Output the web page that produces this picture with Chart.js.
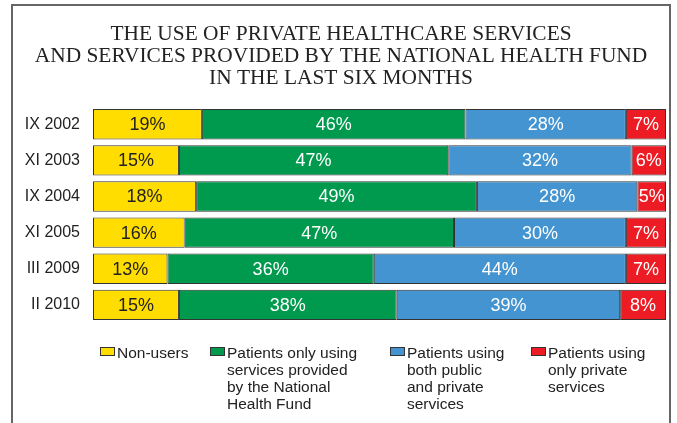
<!DOCTYPE html>
<html>
<head>
<meta charset="utf-8">
<script src="https://cdn.jsdelivr.net/npm/chart.js@4"></script>
<style>
  html, body { margin: 0; padding: 0; background: #fff; overflow: hidden; }
  #wrap { position: relative; width: 677px; height: 423px; }
  #frame { position: absolute; left: 11px; top: 4px; width: 660px; height: 440px; border: 2px solid #666; box-sizing: border-box; }
  #c { position: absolute; left: 0; top: 0; }
  .leg { position: absolute; top: 344px; font: 15.5px "Liberation Sans", Arial, sans-serif; color: #222; line-height: 17px; }
  .leg i { position: absolute; left: 0; top: 3px; width: 13px; height: 7px; border: 1px solid #333; }
  .leg span { display: block; padding-left: 17px; }
</style>
</head>
<body>
<div id="wrap">
  <div id="frame"></div>
  <canvas id="c" width="677" height="423"></canvas>
  <div id="legend"></div>
</div>
<script>
const periods = ['IX 2002', 'XI 2003', 'IX 2004', 'XI 2005', 'III 2009', 'II 2010'];
const nonUsers = [19, 15, 18, 16, 13, 15];
const onlyNHF = [46, 47, 49, 47, 36, 38];
const bothPublicPrivate = [28, 32, 28, 30, 44, 39];
const onlyPrivate = [7, 6, 5, 7, 7, 8];

const seriesNames = [
  ['Non-users'],
  ['Patients only using', 'services provided', 'by the National', 'Health Fund'],
  ['Patients using', 'both public', 'and private', 'services'],
  ['Patients using', 'only private', 'services']
];
const colors = ['#ffdd00', '#009a4e', '#4394d0', '#ed1c24'];
const labelColors = ['#222', '#fff', '#fff', '#fff'];
const legendX = [100, 210, 390, 531];

// percent labels in the middle of each segment
const segLabels = {
  id: 'segLabels',
  afterDatasetsDraw(chart) {
    const ctx = chart.ctx;
    ctx.save();
    ctx.font = '18px "Liberation Sans", Arial, sans-serif';
    ctx.textAlign = 'center';
    ctx.textBaseline = 'middle';
    chart.data.datasets.forEach((ds, i) => {
      const meta = chart.getDatasetMeta(i);
      ctx.fillStyle = labelColors[i];
      meta.data.forEach((bar, j) => {
        const p = bar.getProps(['x', 'base', 'y'], true);
        ctx.fillText(ds.data[j] + '%', (p.x + p.base) / 2, p.y + 1);
      });
    });
    ctx.restore();
  }
};

const sets = [nonUsers, onlyNHF, bothPublicPrivate, onlyPrivate];

new Chart(document.getElementById('c'), {
  type: 'bar',
  data: {
    labels: periods,
    datasets: sets.map((d, i) => ({
      label: seriesNames[i].join(' '),
      data: d,
      backgroundColor: colors[i],
      borderColor: '#333',
      borderWidth: 1,
      borderSkipped: false,
      barPercentage: 0.84,
      categoryPercentage: 1
    }))
  },
  options: {
    indexAxis: 'y',
    responsive: false,
    animation: false,
    layout: { padding: { left: 16, right: 11, top: 0, bottom: 100 } },
    scales: {
      x: { stacked: true, min: 0, max: 100, display: false },
      y: {
        stacked: true,
        grid: { display: false },
        border: { display: false },
        ticks: { color: '#222', padding: 5, font: { family: '"Liberation Sans", Arial, sans-serif', size: 16 } },
        afterFit(scale) { scale.width = 77; }
      }
    },
    plugins: {
      legend: { display: false },
      tooltip: { enabled: false },
      title: {
        display: true,
        text: ['THE USE OF PRIVATE HEALTHCARE SERVICES', 'AND SERVICES PROVIDED BY THE NATIONAL HEALTH FUND', 'IN THE LAST SIX MONTHS'],
        color: '#222',
        font: { family: '"Liberation Serif", "Times New Roman", serif', size: 21.4, weight: 'normal', lineHeight: 1.03 },
        padding: { top: 23, bottom: 17 }
      }
    }
  },
  plugins: [segLabels]
});

// legend below the bars
const legend = document.getElementById('legend');
seriesNames.forEach((lines, i) => {
  const item = document.createElement('div');
  item.className = 'leg';
  item.style.left = legendX[i] + 'px';
  item.innerHTML = '<i style="background:' + colors[i] + '"></i>' + lines.map(t => '<span>' + t + '</span>').join('');
  legend.appendChild(item);
});
</script>
</body>
</html>
